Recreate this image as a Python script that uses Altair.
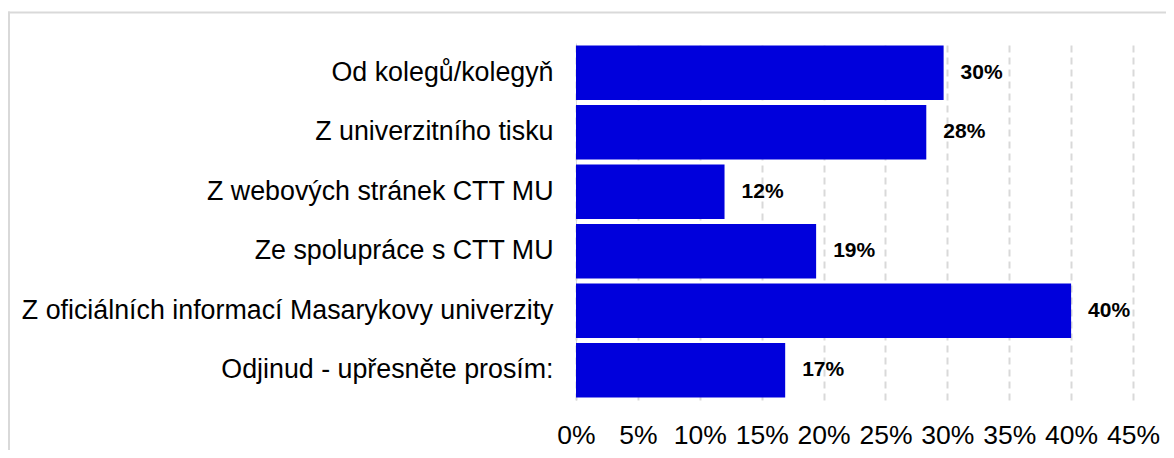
import altair as alt
import pandas as pd

categories = [
    "Od kolegů/kolegyň",
    "Z univerzitního tisku",
    "Z webových stránek CTT MU",
    "Ze spolupráce s CTT MU",
    "Z oficiálních informací Masarykovy univerzity",
    "Odjinud - upřesněte prosím:",
]
shares = [0.297, 0.283, 0.120, 0.194, 0.400, 0.169]
tick_values = [0.0, 0.05, 0.10, 0.15, 0.20, 0.25, 0.30, 0.35, 0.40, 0.45]

df = pd.DataFrame({"category": categories, "share": shares})

FONT = "Liberation Sans"
GRID = "#d9d9d9"

y_enc = alt.Y(
    "category:N",
    sort=categories,
    scale=alt.Scale(paddingInner=0.08, paddingOuter=0.04),
    axis=alt.Axis(
        title=None,
        labelFont=FONT,
        labelFontSize=26.8,
        labelColor="#000000",
        labelLimit=700,
        labelPadding=23,
        ticks=False,
        tickSize=0,
        domainColor=GRID,
        domainWidth=1,
        grid=False,
    ),
)

x_enc = alt.X(
    "share:Q",
    scale=alt.Scale(domain=[0, 0.45], nice=False),
    axis=alt.Axis(
        title=None,
        format=".0%",
        values=tick_values,
        labelFont=FONT,
        labelFontSize=26.5,
        labelColor="#000000",
        labelPadding=22,
        labelFlush=False,
        labelOverlap=False,
        ticks=False,
        tickSize=0,
        domain=False,
        grid=True,
        gridColor=GRID,
        gridWidth=2,
        gridDash=[7, 5],
    ),
)

bars = alt.Chart(df).mark_bar(color="#0000DC").encode(x=x_enc, y=y_enc)

labels = alt.Chart(df).mark_text(
    align="left",
    baseline="middle",
    dx=17,
    font=FONT,
    fontSize=21,
    fontWeight="bold",
    color="#000000",
).encode(
    x=alt.X("share:Q"),
    y=alt.Y("category:N", sort=categories),
    text=alt.Text("share:Q", format=".0%"),
)

frame_df = pd.DataFrame({"k": [0]})
top_line = alt.Chart(frame_df).mark_rule(color=GRID, strokeWidth=2).encode(
    x=alt.value(-568), x2=alt.value(700), y=alt.value(-30.5)
)
left_line = alt.Chart(frame_df).mark_rule(color=GRID, strokeWidth=2).encode(
    x=alt.value(-567), y=alt.value(-31.5), y2=alt.value(500)
)

chart = (
    alt.layer(top_line, left_line, bars, labels)
    .properties(
        width=557,
        height=357,
        padding={"left": 568, "top": 35, "right": 33, "bottom": 50},
        autosize=alt.AutoSizeParams(type="none"),
    )
    .configure_view(stroke=None)
)

chart.save("out.html", embed_options={"renderer": "svg", "actions": False})
